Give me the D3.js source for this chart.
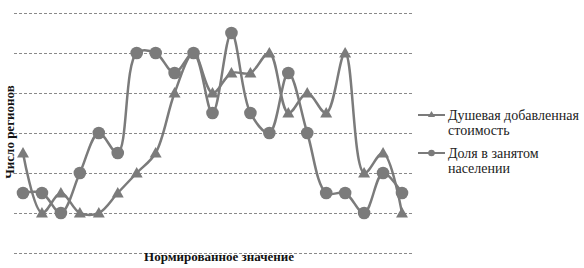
<!DOCTYPE html>
<html>
<head>
<meta charset="utf-8">
<script src="https://cdn.jsdelivr.net/npm/d3@7"></script>
<style>
  body { margin: 0; background: #fff; }
</style>
</head>
<body>
<svg id="chart" width="584" height="268"></svg>
<script>
// values
var bins = d3.range(21);
var valueAdded = [5, 2, 3, 2, 2, 3, 4, 5, 8, 10, 8, 9, 9, 10, 7, 8, 7, 10, 4, 5, 2];
var employment = [3, 3, 2, 4, 6, 5, 10, 10, 9, 10, 7, 11, 7, 6, 9, 6, 3, 3, 2, 4, 3];
var seriesNames = ["Душевая добавленная|стоимость", "Доля в занятом|населении"];
var gridValues = [0, 2, 4, 6, 8, 10, 12];

var svg = d3.select('#chart');
var color = '#7b7b7b';
var serif = '"Liberation Serif", "Times New Roman", "DejaVu Serif", serif';

var x = d3.scalePoint().domain(bins).range([23, 402]);
var y = d3.scaleLinear().domain([0, 12]).range([253, 13]);

// dashed grid
svg.append('g').selectAll('line')
    .data(gridValues)
    .enter()
    .append('line')
    .attr('x1', 14)
    .attr('x2', 412)
    .attr('y1', d => Math.round(y(d)) + 0.5)
    .attr('y2', d => Math.round(y(d)) + 0.5)
    .attr('stroke', '#8a8a8a')
    .attr('stroke-width', 1)
    .attr('stroke-dasharray', '3,2');

var line = d3.line()
    .x((d, i) => x(i))
    .y(d => y(d))
    .curve(d3.curveCatmullRom.alpha(0.5));

var tri = d3.symbol().type(d3.symbolTriangle).size(62);

function drawSeries(values, marker) {
    var g = svg.append('g');
    g.append('path')
        .datum(values)
        .attr('d', line)
        .attr('fill', 'none')
        .attr('stroke', color)
        .attr('stroke-width', 2.5);
    var pts = g.selectAll('.pt')
        .data(values)
        .enter();
    if (marker == 'circle') {
        pts.append('circle')
            .attr('cx', (d, i) => x(i))
            .attr('cy', d => y(d))
            .attr('r', 6.3)
            .attr('fill', color);
    } else {
        pts.append('path')
            .attr('d', tri)
            .attr('transform', (d, i) => 'translate(' + x(i) + ',' + (y(d) + 1) + ')')
            .attr('fill', color);
    }
}

drawSeries(valueAdded, 'triangle');
drawSeries(employment, 'circle');

// legend
var legend = svg.append('g').selectAll('g')
    .data(seriesNames)
    .enter()
    .append('g')
    .attr('transform', (d, i) => 'translate(0,' + (i == 0 ? 115 : 153) + ')');

legend.append('line')
    .attr('x1', 418).attr('x2', 445)
    .attr('y1', 0).attr('y2', 0)
    .attr('stroke', color)
    .attr('stroke-width', 2);

legend.each(function (d, i) {
    var g = d3.select(this);
    if (i == 0) {
        g.append('path')
            .attr('d', d3.symbol().type(d3.symbolTriangle).size(22))
            .attr('transform', 'translate(431.5,0)')
            .attr('fill', color);
    } else {
        g.append('circle')
            .attr('cx', 431.5).attr('cy', 0).attr('r', 3.3)
            .attr('fill', color);
    }
    var t = g.append('text')
        .attr('x', 448)
        .attr('y', 4.5)
        .attr('font-family', serif)
        .attr('font-size', 14)
        .attr('fill', '#222');
    d.split('|').forEach((part, k) => {
        t.append('tspan')
            .attr('x', 448)
            .attr('dy', k == 0 ? 0 : 15.5)
            .text(part);
    });
});

// axis titles
svg.append('text')
    .attr('x', 219)
    .attr('y', 261)
    .attr('text-anchor', 'middle')
    .attr('font-family', serif)
    .attr('font-size', 13)
    .attr('font-weight', 'bold')
    .attr('fill', '#111')
    .text('Нормированное значение');

svg.append('text')
    .attr('transform', 'translate(14,132) rotate(-90)')
    .attr('text-anchor', 'middle')
    .attr('font-family', serif)
    .attr('font-size', 13)
    .attr('font-weight', 'bold')
    .attr('fill', '#111')
    .text('Число регионов');
</script>
</body>
</html>
